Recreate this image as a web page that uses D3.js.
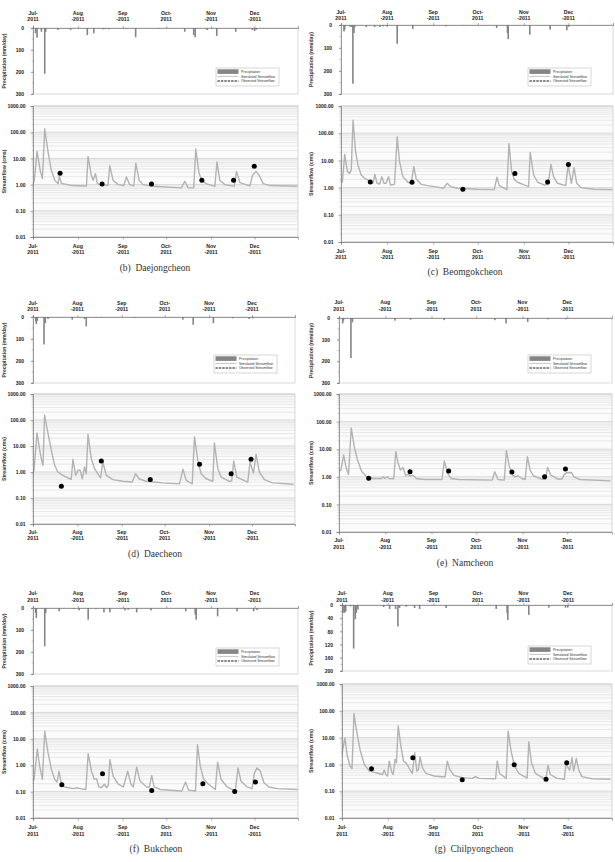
<!DOCTYPE html>
<html>
<head>
<meta charset="utf-8">
<script src="https://cdn.jsdelivr.net/npm/d3@7"></script>
<style>
body { margin: 0; background: #fff; }
</style>
</head>
<body>
<svg id="fig" width="615" height="862" font-family="Liberation Sans, Arial, sans-serif"></svg>
<script>
// month tick labels (two lines each)
const monthTop = ["Jul-", "Aug", "Sep", "Oct-", "Nov", "Dec"];
const monthBottom = ["2011", "-2011", "-2011", "2011", "-2011", "-2011"];
const flowTicks = [0.01, 0.1, 1, 10, 100, 1000];
const legendLabels = ["Precipitation", "Simulated Streamflow", "Observed Streamflow"];

// values are [day since 1 Jul 2011, value]
// (b) Daejongcheon
const precipB = [[1.8,24],[2.8,44],[5.8,17],[8.1,208],[8.8,17],[17.3,9],[26,9],[37.5,32],[42,24],[48.4,6],[50,5],[52.5,6],[64.5,4],[70.9,42],[87.3,3],[104.8,17],[111,32],[112,42],[120.3,9],[126.9,36],[140,17],[151.5,9],[153,14],[154.2,8]];
const simB = [[0,1.0],[0.9,1.46],[2.8,18.5],[5.1,3.2],[6.5,1.7],[8.1,134],[10.4,17.4],[12.7,3.5],[15,1.46],[17.3,1.09],[18.2,2.1],[19.6,1.12],[26.5,0.92],[36.9,0.89],[38,11.9],[40.3,2.26],[41.5,1.46],[43.1,2.6],[44.5,1.09],[46.1,1.0],[51.8,0.94],[53,5.3],[55.3,1.46],[58.8,1.0],[62.7,0.92],[64.5,1.95],[66.8,1.0],[69.6,0.89],[71,6.6],[73.3,1.46],[76,1.0],[83,0.86],[102.5,0.75],[104.8,1.34],[107.1,0.75],[111,0.75],[112.4,23],[114.5,3.0],[116.4,1.46],[119.8,1.06],[125.6,0.86],[127,7.3],[129,1.46],[132.5,1.0],[139,0.86],[140.5,3.2],[142.9,1.19],[149.8,0.89],[151.6,2.26],[154,3.2],[156.2,2.26],[159,1.09],[163.6,0.92],[182.7,0.86]];
const obsB = [[18.7,2.7],[47.7,1.05],[81.8,1.06],[116.6,1.45],[138.5,1.45],[152.8,5.0]];

// (c) Beomgokcheon
const precipC = [[2,28],[2.5,20],[6,7],[7.2,9],[8,255],[8.7,35],[9.2,10],[17,9],[22.6,9],[26.2,9],[28.4,6],[31,7],[37.8,82],[48.3,17],[70.7,6],[82.6,4],[104.7,13],[112,35],[112.5,61],[127,42],[140.7,20],[151.9,23],[153.2,8]];
const simC = [[0,1.91],[0.9,1.57],[2.5,16.7],[4.3,3.86],[5.8,3.35],[6.9,4.44],[8.1,303],[9.8,20.9],[11.4,6.8],[13.6,2.91],[15.9,2.2],[18.1,1.91],[19.7,1.61],[21.5,1.44],[22.8,3.08],[24.2,1.44],[26,1.36],[27.5,2.53],[28.9,1.44],[30.4,1.44],[32,2.53],[33.3,1.25],[36,1.32],[37.8,74],[39.4,9.0],[41.6,2.53],[45,1.57],[47.2,1.44],[49,5.9],[50.6,2.08],[53.9,1.32],[58.4,1.18],[62.9,1.09],[69.1,0.95],[71.4,1.44],[73.6,1.09],[78.5,0.95],[92,0.87],[103.1,0.84],[104.9,2.39],[106.5,1.18],[111.6,0.84],[113,42],[114.8,3.86],[116.6,2.02],[118.8,1.57],[123.3,1.25],[126.2,1.09],[127.3,19.8],[129.6,2.91],[132.3,1.57],[136.7,1.25],[139.4,1.32],[141.2,7.2],[143,2.53],[145.6,1.44],[151.2,1.18],[152.8,6.8],[155,1.44],[156.8,5.4],[158.6,1.44],[161.3,1.0],[170.2,0.87],[182.5,0.84]];
const obsC = [[19.7,1.6],[47.8,1.57],[82,0.87],[117,3.3],[139,1.6],[153,7.1]];

// (d) Daecheon
const precipD = [[1.9,20],[2.3,32],[3,18],[7.7,125],[8.6,28],[10.5,9],[27.4,12],[36,9],[37.2,43],[44,4],[48,4],[71,5],[104.7,12],[111.9,35],[126,28],[139.5,6],[151,9],[153.5,6]];
const simD = [[0,0.86],[0.7,1.16],[2.8,32],[4.7,6.9],[6.5,2.1],[7,1.81],[8.1,154],[10.5,30],[12.8,6.9],[15.1,1.81],[17.4,1.0],[20.9,0.74],[25.6,0.55],[26.7,0.52],[27.9,3.08],[29.8,0.74],[31.4,1.16],[33,1.16],[34.4,0.55],[36,1.56],[37.2,0.86],[38.4,28],[40.7,3.27],[43,1.34],[46,0.74],[47.2,0.59],[48.8,2.43],[51.2,0.74],[55.8,0.51],[62.8,0.44],[69.3,0.41],[71.6,0.86],[74,0.55],[79,0.44],[90.7,0.38],[102.3,0.35],[104.7,1.27],[107,0.48],[111.2,0.35],[112.8,22.4],[115.1,2.8],[117.4,0.86],[120.9,0.55],[125.6,0.44],[126.7,13.1],[129.1,1.34],[131.4,0.64],[137.2,0.44],[138.8,0.45],[140.2,2.66],[142.3,0.64],[150,0.41],[151.6,2.43],[153,1.34],[154,0.91],[155.8,4.8],[158.1,1.0],[161.6,0.51],[167.4,0.38],[182,0.34]];
const obsD = [[19.8,0.28],[47.7,2.66],[81.9,0.51],[116.3,1.98],[138.4,0.86],[152.3,3.08]];

// (e) Namcheon
const precipE = [[2.5,25],[3,12],[8,185],[9,20],[37.5,12],[48,8],[70.5,10],[104.5,10],[112,25],[126.5,18],[140,6],[152,6]];
const simE = [[0,1.61],[1.3,1.75],[3.1,6.2],[4.9,2.02],[6.4,1.22],[8.2,59],[10.2,12.5],[12.4,4.07],[15.3,1.52],[18.6,1.0],[23,0.87],[28.5,0.87],[29.6,1.0],[30.8,0.87],[32.3,1.0],[33.6,0.87],[36.7,0.85],[38.1,8.2],[39.6,3.08],[41.2,1.75],[42.9,2.19],[44.7,1.09],[46.2,1.22],[47.8,1.06],[49.6,1.15],[51.8,0.87],[57.3,0.8],[69,0.8],[70.6,3.74],[72.8,1.32],[75,0.87],[80.5,0.8],[102.7,0.76],[104.4,1.52],[106.6,0.8],[110.8,0.76],[112.2,8.9],[114.2,2.32],[116.4,1.15],[118.1,1.0],[119.9,1.09],[122.6,0.87],[124.8,0.8],[126.3,5.4],[128.1,1.75],[130.3,1.09],[135.8,0.82],[138.5,0.82],[139.8,2.19],[142,1.15],[146.9,0.82],[149.6,0.85],[150.7,1.15],[152.4,1.4],[155.8,1.44],[157.5,1.0],[161.3,0.8],[182,0.71]];
const obsE = [[19.9,0.89],[47.6,1.52],[73.5,1.61],[115.9,1.48],[137.8,1.0],[151.8,1.9]];

// (f) Bukcheon
const precipF = [[1.8,23],[2.3,45],[8.1,174],[8.8,23],[18,15],[28.2,5],[31.9,11],[38.1,53],[43.4,5],[49,20],[53.1,20],[63.5,11],[65.8,8],[71.6,20],[81.5,11],[105.5,15],[112,30],[112.7,53],[127.5,38],[140.9,15],[152.4,15],[154.7,9]];
const simF = [[0,0.25],[0.7,0.29],[3,4.1],[4.6,0.92],[6.5,0.29],[8.1,19.2],[10.4,2.92],[12.7,0.69],[15,0.29],[16.6,0.23],[18,0.59],[19.6,0.19],[21.9,0.15],[27.7,0.13],[30.5,0.14],[32.3,0.13],[36.5,0.12],[38.1,2.75],[40.4,0.59],[42.3,0.29],[43.9,0.31],[45.5,0.15],[47.3,0.14],[49.2,0.19],[50.8,0.14],[52,0.17],[53.1,1.64],[55.4,0.38],[58.9,0.19],[62.4,0.15],[65.4,0.59],[67.7,0.19],[69.3,0.15],[71.6,0.84],[73.9,0.25],[78.5,0.15],[80.4,0.15],[82,0.41],[83.6,0.15],[87.8,0.12],[102.8,0.105],[105.3,0.23],[107.4,0.114],[112.2,0.105],[113.6,6.0],[115.5,0.92],[117.8,0.3],[121.2,0.19],[125.9,0.12],[127.5,1.3],[129.8,0.3],[134,0.15],[139.7,0.105],[141.6,0.79],[143.6,0.25],[147.8,0.15],[151.3,0.13],[152.9,0.51],[154.7,0.79],[157,0.59],[159.4,0.22],[162.8,0.15],[168.6,0.13],[183,0.12]];
const obsF = [[19.9,0.18],[48,0.47],[82,0.11],[117.3,0.2],[139.3,0.1],[153.6,0.23]];

// (g) Chilpyongcheon
const precipG = [[0.7,24],[1.6,24],[2.5,20],[5.9,4],[7.9,132],[9,43],[9.7,24],[10.8,14],[28.2,6],[32.3,12],[36.3,12],[37.9,65],[39,9],[43.6,5],[49.2,9],[52.6,12],[70.6,9],[91,3],[104.5,12],[111.9,24],[112.4,45],[126.6,30],[140.2,8],[151.5,8],[153,8]];
const simG = [[0,2.36],[0.5,3.6],[2,9.8],[3.4,2.36],[5.4,0.87],[6.8,0.69],[8.1,79],[9.9,17.5],[12.2,3.6],[15.1,1.0],[18.5,0.56],[23,0.49],[27.5,0.42],[28.6,0.62],[29.7,0.42],[30.9,0.37],[32,1.33],[33.8,0.49],[34.7,0.42],[36,1.54],[36.9,1.15],[38.1,27],[39.9,4.8],[41.7,1.33],[43.2,1.15],[44.8,0.87],[46.6,0.56],[47.7,0.46],[49.3,2.72],[50.7,0.56],[51.8,0.65],[52.9,1.93],[54.5,0.75],[56.8,0.46],[62.4,0.37],[69.8,0.34],[71.4,1.33],[73,0.65],[75.9,0.39],[81.5,0.32],[88.3,0.3],[90.5,0.35],[92.8,0.3],[104.1,0.29],[105.2,1.33],[106.8,0.46],[111.3,0.3],[112.6,17.5],[114.6,3.14],[116.9,0.87],[119.8,0.46],[125.5,0.31],[126.6,7.0],[128.4,1.15],[131.1,0.46],[136.7,0.3],[138.3,0.3],[139.6,0.94],[141.2,0.42],[145.7,0.3],[150.7,0.28],[151.8,1.15],[153.2,0.75],[154.3,0.62],[155.9,1.77],[157,0.56],[158.8,1.67],[160.4,0.65],[162.6,0.35],[169.4,0.29],[182,0.28]];
const obsG = [[20,0.69],[48,1.77],[81.5,0.27],[116.7,0.97],[138.3,0.28],[152.3,1.15]];

// panel layout
const panels = [
  {caption: "(b)\u2002Daejongcheon", precip: precipB, sim: simB, obs: obsB, pMax: 300, pTicks: [0,100,200,300],
   x0: 33, x1: 298, t1: 13, t2: 19, pTop: 28, pBot: 94, fTop: 106, fBot: 237, b1: 246, b2: 252.5, cap: 268, capX: 155, titleX: 4, leg: [216, 68]},
  {caption: "(c)\u2002Beomgokcheon", precip: precipC, sim: simC, obs: obsC, pMax: 300, pTicks: [0,100,200,300],
   x0: 341, x1: 613, t1: 12, t2: 18, pTop: 25, pBot: 94, fTop: 106, fBot: 242, b1: 251, b2: 257, cap: 272, capX: 465, titleX: 311, leg: [528, 68]},
  {caption: "(d)\u2002Daecheon", precip: precipD, sim: simD, obs: obsD, pMax: 300, pTicks: [0,100,200,300],
   x0: 33, x1: 295, t1: 303, t2: 309, pTop: 317, pBot: 383, fTop: 394, fBot: 524, b1: 532, b2: 538.5, cap: 554, capX: 155, titleX: 4, leg: [214, 355]},
  {caption: "(e)\u2002Namcheon", precip: precipE, sim: simE, obs: obsE, pMax: 300, pTicks: [0,100,200,300],
   x0: 339, x1: 612, t1: 302, t2: 309, pTop: 318, pBot: 383, fTop: 394, fBot: 532, b1: 540, b2: 547, cap: 563, capX: 465, titleX: 311, leg: [528, 355]},
  {caption: "(f)\u2002Bukcheon", precip: precipF, sim: simF, obs: obsF, pMax: 300, pTicks: [0,100,200,300],
   x0: 33, x1: 298, t1: 593, t2: 600, pTop: 608, pBot: 674, fTop: 686, fBot: 818, b1: 827, b2: 834, cap: 849, capX: 156, titleX: 4, leg: [216, 648]},
  {caption: "(g)\u2002Chilpyongcheon", precip: precipG, sim: simG, obs: obsG, pMax: 200, pTicks: [0,40,80,120,160,200],
   x0: 342, x1: 612, t1: 593, t2: 600, pTop: 605, pBot: 671, fTop: 684, fBot: 818, b1: 827, b2: 834, cap: 849, capX: 474, titleX: 311, leg: [528, 646]}
];

const SANS = "Liberation Sans, Arial, sans-serif";
const SERIF = "Liberation Serif, DejaVu Serif, serif";
const START = Date.UTC(2011, 6, 1);
const toDate = d => new Date(START + d * 864e5);
const svg = d3.select("#fig");

function monthLabels(g, x, months, y1, y2) {
  months.forEach((m, i) => {
    g.append("text").attr("x", x(m)).attr("y", y1).attr("dy", "0.35em")
      .attr("text-anchor", "middle").style("font-family", SANS).style("font-size", "5.2px")
      .style("font-weight", "bold").attr("fill", "#222").text(monthTop[i]);
    g.append("text").attr("x", x(m)).attr("y", y2).attr("dy", "0.35em")
      .attr("text-anchor", "middle").style("font-family", SANS).style("font-size", "5.2px")
      .style("font-weight", "bold").attr("fill", "#222").text(monthBottom[i]);
  });
}

function styleAxis(sel) {
  sel.select(".domain").attr("stroke", "#777").attr("stroke-width", 0.7);
  sel.selectAll(".tick line").attr("stroke", "#777").attr("stroke-width", 0.6);
  sel.selectAll(".tick text").style("font-size", "5px").style("font-weight", "bold")
    .attr("fill", "#222").style("font-family", SANS);
}

function drawPanel(p) {
  const g = svg.append("g");
  const x = d3.scaleUtc().domain([toDate(0), toDate(183)]).range([p.x0, p.x1]);
  const months = d3.utcMonth.range(toDate(0), toDate(170));

  // ---- precipitation (hanging bars)
  const yP = d3.scaleLinear().domain([0, p.pMax]).range([p.pTop, p.pBot]);
  g.append("rect").attr("x", p.x0).attr("y", p.pTop)
    .attr("width", p.x1 - p.x0).attr("height", p.pBot - p.pTop)
    .attr("fill", "#fff").attr("stroke", "#c9c9c9").attr("stroke-width", 0.7);

  const bw = 1.6;
  g.append("g").selectAll("rect").data(p.precip).join("rect")
    .attr("x", d => x(toDate(d[0])) - bw / 2)
    .attr("y", yP(0))
    .attr("width", bw)
    .attr("height", d => yP(d[1]) - yP(0))
    .attr("fill", "#858585");

  const pMinor = d3.range(0, p.pMax + 1, p.pMax === 300 ? 50 : 20);
  g.append("g").selectAll("line").data(pMinor).join("line")
    .attr("x1", p.x0 - 1.5).attr("x2", p.x0)
    .attr("y1", d => yP(d)).attr("y2", d => yP(d))
    .attr("stroke", "#888").attr("stroke-width", 0.5);

  g.append("g").attr("transform", `translate(${p.x0},0)`)
    .call(d3.axisLeft(yP).tickValues(p.pTicks).tickSize(2).tickPadding(7).tickFormat(d3.format("d")))
    .call(styleAxis);

  g.append("g").attr("transform", `translate(0,${p.pTop})`)
    .call(d3.axisTop(x).tickValues(months).tickSize(2).tickFormat(""))
    .call(styleAxis);

  monthLabels(g, x, months, p.t1, p.t2);

  g.append("text")
    .attr("transform", `translate(${p.titleX},${(p.pTop + p.pBot) / 2}) rotate(-90)`)
    .attr("text-anchor", "middle").attr("dy", "0.35em")
    .style("font-family", SANS).style("font-size", "5.1px").style("font-weight", "bold")
    .attr("fill", "#333").text("Precipitation (mm/day)");

  // legend
  const [lx, ly] = p.leg;
  const lg = g.append("g");
  lg.append("rect").attr("x", lx).attr("y", ly).attr("width", 63).attr("height", 18)
    .attr("fill", "#fff").attr("stroke", "#bdbdbd").attr("stroke-width", 0.6);
  lg.append("rect").attr("x", lx + 1.5).attr("y", ly + 1.3).attr("width", 21).attr("height", 4.6)
    .attr("fill", "#858585");
  lg.append("line").attr("x1", lx + 1.5).attr("x2", lx + 22.5).attr("y1", ly + 8.4).attr("y2", ly + 8.4)
    .attr("stroke", "#b5b5b5").attr("stroke-width", 0.8);
  lg.append("line").attr("x1", lx + 1.5).attr("x2", lx + 22.5).attr("y1", ly + 13).attr("y2", ly + 13)
    .attr("stroke", "#111").attr("stroke-width", 1).attr("stroke-dasharray", "2.4,1");
  [3.6, 8.4, 13].forEach((dy, i) => {
    lg.append("text").attr("x", lx + 25).attr("y", ly + dy).attr("dy", "0.35em")
      .style("font-family", SANS).style("font-size", "3.5px").attr("fill", "#333").text(legendLabels[i]);
  });

  // ---- streamflow (log scale)
  const yF = d3.scaleLog().domain([0.01, 1000]).range([p.fBot, p.fTop]);
  g.append("rect").attr("x", p.x0).attr("y", p.fTop)
    .attr("width", p.x1 - p.x0).attr("height", p.fBot - p.fTop)
    .attr("fill", "#fbfbfb");

  const minor = [];
  flowTicks.slice(0, -1).forEach(t => d3.range(2, 10).forEach(m => minor.push(t * m)));
  g.append("g").selectAll("line").data(minor).join("line")
    .attr("x1", p.x0).attr("x2", p.x1)
    .attr("y1", d => yF(d)).attr("y2", d => yF(d))
    .attr("stroke", "#dcdcdc").attr("stroke-width", 0.6);
  g.append("g").selectAll("line").data(flowTicks).join("line")
    .attr("x1", p.x0).attr("x2", p.x1)
    .attr("y1", d => yF(d)).attr("y2", d => yF(d))
    .attr("stroke", "#cfcfcf").attr("stroke-width", 0.8);
  g.append("g").selectAll("line").data(minor).join("line")
    .attr("x1", p.x0 - 1.5).attr("x2", p.x0)
    .attr("y1", d => yF(d)).attr("y2", d => yF(d))
    .attr("stroke", "#888").attr("stroke-width", 0.4);

  g.append("rect").attr("x", p.x0).attr("y", p.fTop)
    .attr("width", p.x1 - p.x0).attr("height", p.fBot - p.fTop)
    .attr("fill", "none").attr("stroke", "#c9c9c9").attr("stroke-width", 0.7);

  const line = d3.line()
    .x(d => x(toDate(d[0])))
    .y(d => yF(d[1]));
  g.append("path").datum(p.sim)
    .attr("d", line).attr("fill", "none")
    .attr("stroke", "#b3b3b3").attr("stroke-width", 1.4)
    .attr("stroke-linejoin", "round");

  g.append("g").selectAll("circle").data(p.obs).join("circle")
    .attr("cx", d => x(toDate(d[0])))
    .attr("cy", d => yF(d[1]))
    .attr("r", 2.5).attr("fill", "#000");

  g.append("g").attr("transform", `translate(${p.x0},0)`)
    .call(d3.axisLeft(yF).tickValues(flowTicks).tickSize(2.5).tickPadding(5).tickFormat(d3.format(".2f")))
    .call(styleAxis);

  g.append("g").attr("transform", `translate(0,${p.fBot})`)
    .call(d3.axisBottom(x).tickValues(months).tickSize(2.5).tickFormat(""))
    .call(styleAxis);

  monthLabels(g, x, months, p.b1, p.b2);

  g.append("text")
    .attr("transform", `translate(${p.titleX},${(p.fTop + p.fBot) / 2}) rotate(-90)`)
    .attr("text-anchor", "middle").attr("dy", "0.35em")
    .style("font-family", SANS).style("font-size", "5.3px").style("font-weight", "bold")
    .attr("fill", "#333").text("Streamflow (cms)");

  g.append("text").attr("x", p.capX).attr("y", p.cap).attr("dy", "0.35em")
    .attr("text-anchor", "middle").style("font-family", SERIF).style("font-size", "9.5px")
    .attr("fill", "#333").text(p.caption);
}

panels.forEach(drawPanel);
</script>
</body>
</html>
